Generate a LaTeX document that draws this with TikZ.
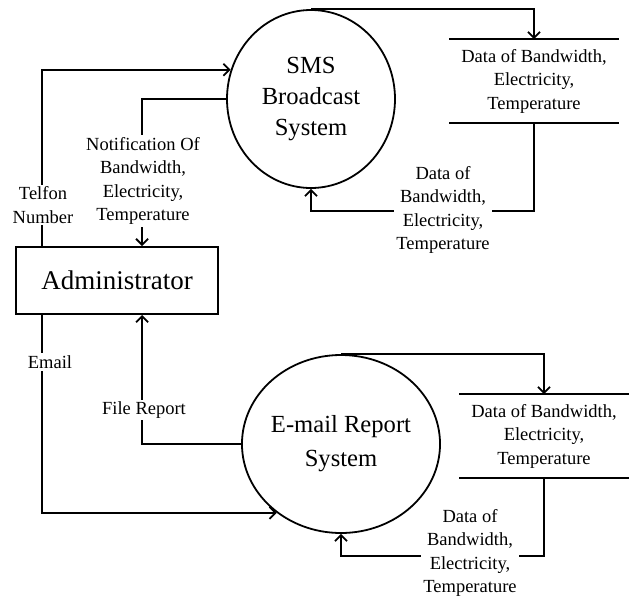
\documentclass[tikz,border=0pt]{standalone}
\usepackage{fontspec}
\setmainfont{Liberation Serif}
\usetikzlibrary{arrows.meta,shapes.geometric}
\begin{document}
\begin{tikzpicture}[x=1pt,y=-1pt,line width=1.8pt,
  proc/.style={ellipse,draw,minimum width=168pt,minimum height=178pt,inner sep=0pt,align=center},
  ent/.style={draw,minimum width=202pt,minimum height=67pt,font=\fontsize{27}{32}\selectfont},
  store/.style={minimum width=168pt,minimum height=82pt,inner sep=0pt,align=center,font=\fontsize{18.5}{23.5}\selectfont},
  lbl/.style={fill=white,inner sep=2pt,align=center,font=\fontsize{18.5}{23.5}\selectfont},
  flow/.style={-{Straight Barb[length=6pt,width=12pt]}}]
\useasboundingbox (0,0) rectangle (630,598);

% processes, entity and data stores
\node[proc,font=\fontsize{24.6}{31}\selectfont] (sms) at (311,99) {SMS\\Broadcast\\System};
\node[proc,font=\fontsize{24.6}{34}\selectfont] (em) at (341,444) {E-mail Report\\System};
\node[ent] (admin) at (117,280.5) {Administrator};
\node[store] (st1) at (534,81) {Data of Bandwidth,\\Electricity,\\Temperature};
\node[store] (st2) at (544,436) {Data of Bandwidth,\\Electricity,\\Temperature};
\draw (st1.north west) -- (st1.north east);
\draw (st1.south west) -- (st1.south east);
\draw (st2.north west) -- (st2.north east);
\draw (st2.south west) -- (st2.south east);

% data flows
\draw[flow] ([xshift=27pt]admin.north west) |- (sms.160);
\draw[flow] (sms.180) -| ([xshift=127pt]admin.north west);
\draw[flow] (sms.north) -| (st1.north);
\draw[flow] (st1.south) -- ++(0,88) -| (sms.south);
\draw[flow] ([xshift=27pt]admin.south west) |- (em.227);
\draw[flow] (em.180) -| ([xshift=127pt]admin.south west);
\draw[flow] (em.north) -| (st2.north);
\draw[flow] (st2.south) -- ++(0,78) -| (em.south);

% flow labels
\node[lbl] (ltel) at (43,205) {Telfon\\Number};
\node[lbl] (lnot) at (143,181) {Notification Of\\Bandwidth,\\Electricity,\\Temperature};
\node[lbl] (ld1) at (443,210) {Data of\\Bandwidth,\\Electricity,\\Temperature};
\node[lbl] (lmail) at (50,362) {Email};
\node[lbl] (lfile) at (144,410) {File Report};
\node[lbl] (ld2) at (470,553) {Data of\\Bandwidth,\\Electricity,\\Temperature};
\end{tikzpicture}
\end{document}
